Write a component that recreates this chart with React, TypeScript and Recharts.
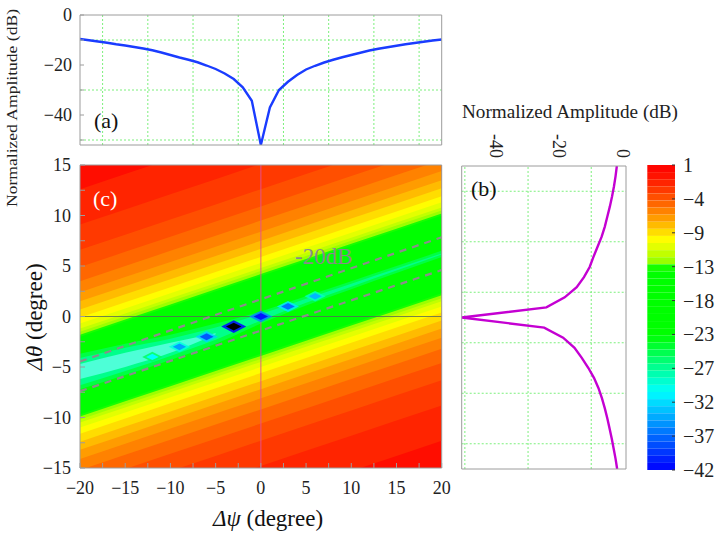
import React from 'react';
import { ComposedChart, Line, Area, Scatter, XAxis, YAxis, ReferenceLine, ReferenceArea } from 'recharts';

const FONT = '"Liberation Serif", "Times New Roman", serif';
const FRAME = '#9c9c9c';
const GRID = '#7cf07c';

// (a) cut along Δψ at Δθ = 0
const psiCut = [-20, -19, -18, -17, -16, -15, -14, -13, -12, -11, -10, -9, -8, -7, -6, -5, -4, -3, -2, -1, 0,
  1, 2, 3, 4, 5, 6, 7, 8, 9, 10, 11, 12, 13, 14, 15, 16, 17, 18, 19, 20];
const psiCutDb = [-9.6, -10.1, -10.6, -11.1, -11.7, -12.2, -12.8, -13.4, -14.1, -15.0, -16.0, -17.0, -17.9, -18.9,
  -20.2, -21.6, -23.4, -25.6, -28.9, -34.3, -52, -37.0, -30.0, -26.7, -24.0, -21.8, -20.3, -19.0, -17.9, -16.9,
  -16.0, -15.1, -14.2, -13.5, -12.9, -12.3, -11.7, -11.2, -10.7, -10.2, -9.8];

// (b) cut along Δθ at Δψ = 0
const thetaCut = [15, 14, 13, 12, 11, 10, 9, 8, 7, 6, 5, 4, 3, 2, 1, 0, -1, -2, -3, -4, -5, -6, -7, -8, -9, -10,
  -11, -12, -13, -14, -15];
const thetaCutDb = [-1.9, -2.3, -2.8, -3.4, -4.1, -4.9, -5.7, -6.7, -8.0, -9.3, -10.5, -12.3, -14.6, -18.4, -24.2,
  -51, -24.9, -18.9, -15.3, -13.0, -10.9, -9.1, -7.7, -6.6, -5.7, -4.9, -4.2, -3.5, -2.9, -2.3, -1.8];

// (c) contour levels (dB) and where each contour crosses Δψ = 0 (degree)
const contourLevels = [-1, -2, -3, -4, -5, -6, -7, -8, -9, -10, -11, -12, -13, -14];
const contourUpper = [18.6, 15.1, 12.6, 10.9, 9.5, 8.4, 7.5, 6.7, 5.9, 5.3, 4.8, 4.5, 4.2, 4.0];
const contourLower = [-18.3, -14.8, -12.3, -10.6, -9.2, -8.1, -7.2, -6.4, -5.6, -5.0, -4.5, -4.2, -3.9, -3.7];
const contourTilt = 0.3;

// deep valley along the null line
const bandPsi = [-20, -15, -10, -5, 0, 5, 10, 15, 20];
const glowWideLow = [-7.2, -5.8, -4.3, -2.7, -0.7, 1.1, 2.7, 4.3, 5.9];
const glowWideHigh = [-3.7, -2.7, -1.8, -0.7, 0.5, 2.0, 3.5, 5.0, 6.5];
const glowOuterLow = [-6.8, -5.4, -3.9, -2.3, -0.4, 1.35, 2.95, 4.55, 6.15];
const glowOuterHigh = [-4.1, -3.1, -2.2, -1.1, 0.25, 1.75, 3.25, 4.75, 6.25];
const glowInnerLow = [-6.2, -5.0, -3.6, -1.75, null, null, null, null, null];
const glowInnerHigh = [-4.7, -3.6, -2.6, -1.65, null, null, null, null, null];

// -20 dB contour
const dashPsi = [-20, 20];
const dashUpper = [-4.45, 7.85];
const dashLower = [-7.4, 4.6];

// nulls of the pattern
const nullPsi = [-12, -9, -6, -3, 0, 3, 6];
const nullTheta = [-4, -3, -2, -1, 0, 1, 2];
const nullDepth = [-31, -35, -38, -47, -41, -37, -34];

const psiTicks = [-20, -17.5, -15, -12.5, -10, -7.5, -5, -2.5, 0, 2.5, 5, 7.5, 10, 12.5, 15, 17.5, 20];
const thetaTicks = [-15, -12.5, -10, -7.5, -5, -2.5, 0, 2.5, 5, 7.5, 10, 12.5, 15];
const aTicks = [0, -10, -20, -30, -40, -50];
const aLabels = [0, -20, -40];
const bTicks = [-50, -40, -30, -20, -10, 0];
const bLabels = [-40, -20, 0];
const psiGrid = [-17.5, -12.5, -7.5, -2.5, 2.5, 7.5, 12.5, 17.5];
const thetaGrid = [-12.5, -7.5, -2.5, 2.5, 7.5, 12.5];
const dbGrid = [-10, -30, -50];

const colorbarTicks = [1, -3.78, -8.56, -13.33, -18.11, -22.89, -27.67, -32.44, -37.22, -42];
const colorbarLabels = ['1', '−4', '−9', '−13', '−18', '−23', '−27', '−32', '−37', '−42'];
const colorbarTop = 1;
const colorbarBottom = -42;

const hueStops: [number, number][] = [
  [1, 0], [-1, 6], [-4, 21], [-7, 40], [-9, 56], [-11, 70], [-13, 88], [-13.6, 120],
  [-23, 120], [-27, 150], [-31, 180], [-37, 214], [-42, 240],
];

function levelColor(v: number): string {
  if (v < -43) return '#000000';
  if (v >= hueStops[0][0]) return 'hsl(0,100%,50%)';
  for (let i = 1; i < hueStops.length; i++) {
    const [v0, h0] = hueStops[i - 1];
    const [v1, h1] = hueStops[i];
    if (v >= v1) {
      const h = h0 + ((v0 - v) / (v0 - v1)) * (h1 - h0);
      return `hsl(${h.toFixed(1)},100%,50%)`;
    }
  }
  return 'hsl(240,100%,50%)';
}

const minus = (v: number) => String(v).replace('-', '−');

const aData = psiCut.map((psi, i) => ({ psi, db: psiCutDb[i] }));
const bData = thetaCut.map((theta, i) => ({ theta, db: thetaCutDb[i] }));

const pair = (lo: (number | null)[], hi: (number | null)[], i: number) =>
  lo[i] == null ? null : [lo[i], hi[i]];

const bandRows = bandPsi.map((psi, i) => {
  const row: Record<string, any> = { psi };
  row.bg = [-60, 60];
  contourLevels.forEach((_, k) => {
    row['b' + k] = [contourLower[k] + contourTilt * psi, contourUpper[k] + contourTilt * psi];
  });
  row.glowWide = pair(glowWideLow, glowWideHigh, i);
  row.glowOuter = pair(glowOuterLow, glowOuterHigh, i);
  row.glowInner = pair(glowInnerLow, glowInnerHigh, i);
  const j = dashPsi.indexOf(psi);
  row.dashU = j >= 0 ? dashUpper[j] : null;
  row.dashL = j >= 0 ? dashLower[j] : null;
  return row;
});

const nullPoints = nullPsi.map((psi, i) => ({ psi, theta: nullTheta[i], depth: nullDepth[i] }));

const colorbarSteps: { hi: number; lo: number }[] = [];
for (let v = colorbarTop; v > colorbarBottom; v -= 1) colorbarSteps.push({ hi: v, lo: v - 1 });

const serif: React.CSSProperties = { fontFamily: FONT };

// tick label drawn as plain svg text so the serif font is used
const tickLabel = (fmt: (v: number) => string, anchor: string, dy: string, size = 18) => (props: any) => (
  <text x={props.x} y={props.y} dy={dy} textAnchor={anchor} fontSize={size} style={serif} fill="#222">
    {fmt(props.payload.value)}
  </text>
);

const NullMark = (props: any) => {
  const { cx, cy, payload } = props;
  const d = payload.depth;
  const w = 10 + (-d - 30) * 0.15;
  const h = w * 0.5;
  const dia = (s: number) =>
    `${cx - w * s},${cy} ${cx},${cy - h * s} ${cx + w * s},${cy} ${cx},${cy + h * s}`;
  return (
    <g>
      <polygon points={dia(1)} fill={levelColor(d + 5)} fillOpacity={0.85} />
      <polygon points={dia(0.62)} fill={levelColor(d)} />
    </g>
  );
};

const RotatedTick = (props: any) => {
  const { x, y, payload } = props;
  return (
    <text x={x} y={y} dy="0.35em" transform={`rotate(90 ${x} ${y})`} textAnchor="end"
      fontSize={18} style={serif} fill="#222">
      {String(payload.value)}
    </text>
  );
};

function PanelA() {
  return (
    <ComposedChart width={460} height={160} data={aData} margin={{ top: 14, right: 17.3, bottom: 5, left: 50 }}>
      {psiGrid.map((g) => (
        <ReferenceLine key={'v' + g} x={g} stroke={GRID} strokeDasharray="2 2" />
      ))}
      {dbGrid.map((g) => (
        <ReferenceLine key={'h' + g} y={g} stroke={GRID} strokeDasharray="2 2" />
      ))}
      <Line dataKey="db" type="linear" stroke="#1a3cff" strokeWidth={2.4} dot={false} isAnimationActive={false} />
      <Line dataKey="db" xAxisId="t" yAxisId="r" stroke="none" dot={false} isAnimationActive={false} />
      <XAxis dataKey="psi" type="number" domain={[-20, 20]} ticks={psiTicks} interval={0} height={10}
        tickSize={-4} tick={false} stroke={FRAME} allowDataOverflow />
      <XAxis xAxisId="t" dataKey="psi" orientation="top" type="number" domain={[-20, 20]} height={1} tick={false}
        tickLine={false} stroke={FRAME} allowDataOverflow />
      <YAxis type="number" domain={[-52, 0]} ticks={aTicks} interval={0} width={30} tickSize={-4} tickMargin={12}
        tick={tickLabel((v) => (aLabels.includes(v) ? minus(v) : ''), 'end', '0.35em')} stroke={FRAME}
        allowDataOverflow />
      <YAxis yAxisId="r" orientation="right" type="number" domain={[-52, 0]} width={1} tick={false}
        tickLine={false} stroke={FRAME} allowDataOverflow />
    </ComposedChart>
  );
}

function PanelC() {
  return (
    <ComposedChart width={460} height={389} data={bandRows} margin={{ top: 5, right: 8.3, bottom: 41, left: 50 }}>
      <Area dataKey="bg" type="linear" fill={levelColor(0)} fillOpacity={1} stroke="none" isAnimationActive={false} />
      {contourLevels.map((lv, k) => (
        <Area key={lv} dataKey={'b' + k} type="linear" fill={levelColor(lv - 0.5)} fillOpacity={1} stroke="none"
          isAnimationActive={false} />
      ))}
      <Area dataKey="glowWide" type="monotone" fill="#00ff70" fillOpacity={0.6} stroke="none"
        isAnimationActive={false} />
      <Area dataKey="glowOuter" type="monotone" fill="#00ffa8" fillOpacity={0.7} stroke="none"
        isAnimationActive={false} />
      <Area dataKey="glowInner" type="monotone" fill="#60ffea" fillOpacity={0.8} stroke="none"
        isAnimationActive={false} />
      <ReferenceLine x={0} stroke="#e0509a" strokeOpacity={0.75} strokeWidth={1.2} />
      <ReferenceLine y={0} stroke="#58685a" strokeOpacity={0.8} strokeWidth={1.2} />
      <Line dataKey="dashU" type="linear" connectNulls stroke="#8c8c8c" strokeWidth={2.2} strokeDasharray="7 6"
        dot={false} isAnimationActive={false} />
      <Line dataKey="dashL" type="linear" connectNulls stroke="#8c8c8c" strokeWidth={2.2} strokeDasharray="7 6"
        dot={false} isAnimationActive={false} />
      <Line dataKey="dashU" xAxisId="t" yAxisId="r" connectNulls stroke="none" dot={false}
        isAnimationActive={false} />
      <Scatter data={nullPoints} dataKey="theta" shape={NullMark} isAnimationActive={false} />
      <XAxis dataKey="psi" type="number" domain={[-20, 20]} ticks={psiTicks} interval={0} height={30}
        tickSize={-5} tickMargin={18}
        tick={tickLabel((v) => (v % 5 === 0 ? minus(v) : ''), 'middle', '0.71em')} stroke={FRAME}
        allowDataOverflow />
      <XAxis xAxisId="t" dataKey="psi" orientation="top" type="number" domain={[-20, 20]} ticks={psiTicks}
        interval={0} height={10} tickSize={-5} tick={false} stroke={FRAME} allowDataOverflow />
      <YAxis type="number" domain={[-15, 15]} ticks={thetaTicks} interval={0} width={30} tickSize={-5}
        tickMargin={14} tick={tickLabel((v) => (v % 5 === 0 ? minus(v) : ''), 'end', '0.35em')}
        stroke={FRAME} allowDataOverflow />
      <YAxis yAxisId="r" orientation="right" type="number" domain={[-15, 15]} ticks={thetaTicks} interval={0}
        width={10} tickSize={-5} tick={false} stroke={FRAME} allowDataOverflow />
    </ComposedChart>
  );
}

function PanelB() {
  return (
    <ComposedChart width={200} height={439} data={bData} margin={{ top: 36, right: 13, bottom: 60, left: 11.7 }}>
      {dbGrid.map((g) => (
        <ReferenceLine key={'v' + g} x={g} stroke={GRID} strokeDasharray="2 2" />
      ))}
      {thetaGrid.map((g) => (
        <ReferenceLine key={'h' + g} y={g} stroke={GRID} strokeDasharray="2 2" />
      ))}
      <Line dataKey="theta" type="linear" stroke="#c400d2" strokeWidth={2.4} dot={false} isAnimationActive={false} />
      <Line dataKey="theta" xAxisId="t" yAxisId="r" stroke="none" dot={false} isAnimationActive={false} />
      <XAxis dataKey="db" type="number" domain={[-51, 1]} ticks={bTicks} interval={0} height={10} tickSize={-4}
        tick={false} stroke={FRAME} allowDataOverflow />
      <XAxis xAxisId="t" dataKey="db" orientation="top" type="number" domain={[-51, 1]} ticks={bLabels}
        interval={0} height={30} tickSize={0} tickLine={false} tickMargin={8} tick={RotatedTick} stroke={FRAME}
        allowDataOverflow />
      <YAxis type="number" domain={[-15, 15]} ticks={thetaTicks} interval={0} width={10} tickSize={-4}
        tick={false} stroke={FRAME} allowDataOverflow />
      <YAxis yAxisId="r" orientation="right" type="number" domain={[-15, 15]} width={1} tick={false}
        tickLine={false} stroke={FRAME} allowDataOverflow />
    </ComposedChart>
  );
}

function Colorbar() {
  return (
    <ComposedChart width={87} height={439} data={colorbarSteps} margin={{ top: 65, right: 12, bottom: 69, left: 7.3 }}>
      <XAxis type="number" domain={[0, 1]} hide />
      {colorbarSteps.map((s) => (
        <ReferenceArea key={s.hi} yAxisId="cb" y1={s.lo} y2={s.hi} fill={levelColor((s.hi + s.lo) / 2)}
          fillOpacity={1} stroke="none" />
      ))}
      <YAxis yAxisId="cb" orientation="right" type="number" domain={[colorbarBottom, colorbarTop]}
        ticks={colorbarTicks} interval={0} width={40} tickSize={-3} tickMargin={11} axisLine={false}
        tickLine={{ stroke: '#333' }}
        tick={tickLabel((v) => colorbarLabels[colorbarTicks.indexOf(v)] ?? '', 'start', '0.35em', 20)}
        allowDataOverflow />
    </ComposedChart>
  );
}

export default function App() {
  const abs = (left: number, top: number): React.CSSProperties => ({ position: 'absolute', left, top });
  return (
    <div style={{ position: 'absolute', left: 0, top: 0, width: 727, height: 539, background: '#fff',
      overflow: 'hidden', fontFamily: FONT }}>
      <div style={abs(0, 0)}><PanelA /></div>
      <div style={abs(0, 150)}><PanelC /></div>
      <div style={abs(440, 100)}><PanelB /></div>
      <div style={abs(640, 100)}><Colorbar /></div>
      <svg width={727} height={539} style={{ position: 'absolute', left: 0, top: 0, pointerEvents: 'none' }}
        fontFamily={FONT}>
        <text x={17} y={108} transform="rotate(-90 17 108)" textAnchor="middle" fontSize={15} fill="#222"
          textLength={198} lengthAdjust="spacingAndGlyphs">Normalized Amplitude (dB)</text>
        <text x={462} y={118} fontSize={18} fill="#222" textLength={216} lengthAdjust="spacingAndGlyphs">
          Normalized Amplitude (dB)
        </text>
        <text x={94} y={128} fontSize={22} fill="#111">(a)</text>
        <text x={471} y={196} fontSize={22} fill="#111">(b)</text>
        <text x={93} y={206} fontSize={22} fill="#fff">(c)</text>
        <text x={295} y={264} fontSize={23} fill="#8a8a8a">-20dB</text>
        <text x={42} y={317} transform="rotate(-90 42 317)" textAnchor="middle" fontSize={23} fill="#111">
          <tspan fontStyle="italic">Δθ</tspan> (degree)
        </text>
        <text x={268} y={526} textAnchor="middle" fontSize={23} fill="#111">
          <tspan fontStyle="italic">Δψ</tspan> (degree)
        </text>
      </svg>
    </div>
  );
}
